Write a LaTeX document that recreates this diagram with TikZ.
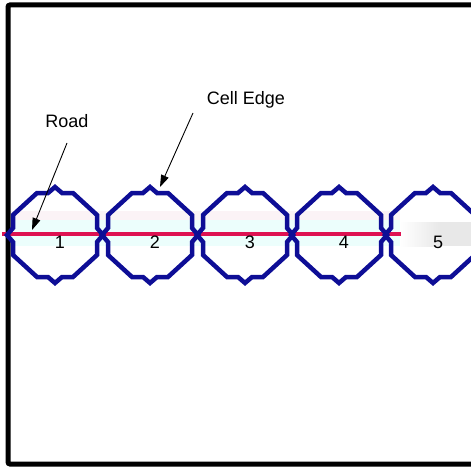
\documentclass[tikz,border=0pt]{standalone}
\usepackage{fontspec}
\setmainfont{Liberation Sans}
\usetikzlibrary{arrows.meta}
\definecolor{cellblue}{RGB}{14,14,150}
\definecolor{roadred}{RGB}{222,18,82}
\definecolor{bandpink}{RGB}{251,243,246}
\definecolor{bandcyan}{RGB}{236,254,252}
\definecolor{blurgrey}{RGB}{232,232,232}
\tikzset{
  cellline/.style={draw=cellblue, line width=4.5pt, line join=miter},
  cell/.pic={\path[cellline] (-18,-42) -- (-7,-42) -- (0,-48) -- (7,-42) -- (18,-42) -- (42,-20) -- (42,-7) -- (48,0) -- (42,7) -- (42,20) -- (18,42) -- (7,42) -- (0,48) -- (-7,42) -- (-18,42) -- (-42,20) -- (-42,7) -- (-48,0) -- (-42,-7) -- (-42,-20) -- cycle;},
  lbl/.style={font=\fontsize{18}{21}\selectfont, inner sep=0pt},
  pointer/.style={draw=black, line width=0.9pt, -{Triangle[length=12pt,width=8pt]}},
  frameline/.style={draw=black, line width=5pt, rounded corners=2pt},
  roadline/.style={draw=roadred, line width=4.5pt}
}
\begin{document}
\begin{tikzpicture}[x=1pt,y=-1pt]
\useasboundingbox (0,0) rectangle (471,468);
\clip (0,0) rectangle (471,468);
% faint background bands
\fill[bandpink] (10,211) rectangle (400,220);
\fill[bandcyan] (10,220) rectangle (400,246);
\shade[left color=white, right color=blurgrey] (400,222) rectangle (440,246);
\fill[blurgrey] (440,222) rectangle (471,246);
% frame
\path[frameline] (480,5) -- (8,5) -- (8,464) -- (480,464);
% road
\coordinate (roadstart) at (2,234);
\coordinate (roadend) at (401,234);
\path[roadline] (roadstart) -- (roadend);
% cells
\foreach \i/\cx in {1/55,2/150,3/245,4/339,5/433}{
  \pic at (\cx,235) {cell};
  \node[lbl] (c\i) at (\cx+5,242) {\i};
}
% labels and pointers
\node[lbl] (road) at (67,121) {Road};
\node[lbl] (celledge) at (246,100) {Cell Edge};
\coordinate (roadtail) at (67,143);
\coordinate (roadtip) at (32,230);
\coordinate (edgetail) at (193,113);
\coordinate (edgetip) at (160,187);
\path[pointer] (roadtail) -- (roadtip);
\path[pointer] (edgetail) -- (edgetip);
\end{tikzpicture}
\end{document}
